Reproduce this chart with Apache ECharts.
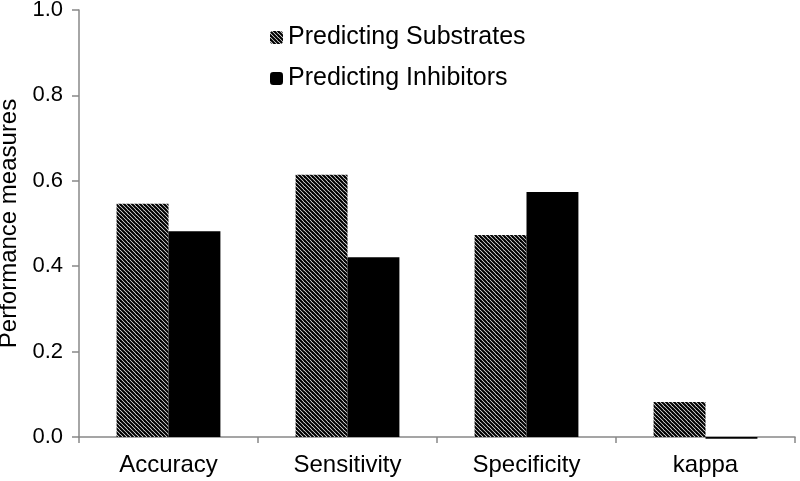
<!DOCTYPE html>
<html><head><meta charset="utf-8">
<script src="https://cdn.jsdelivr.net/npm/echarts@6/dist/echarts.min.js"></script>
<style>html,body{margin:0;padding:0;background:#fff}#c{width:800px;height:481px}</style>
</head><body><div id="c"></div>
<script>
const categories = ['Accuracy', 'Sensitivity', 'Specificity', 'kappa'];
const substrates = [0.546, 0.614, 0.473, 0.082];
const inhibitors = [0.482, 0.421, 0.574, -0.004];
const yTicks = [0.0, 0.2, 0.4, 0.6, 0.8, 1.0];

function hatch() {
  const s = 8;
  const cv = document.createElement('canvas');
  cv.width = s; cv.height = s;
  const ctx = cv.getContext('2d');
  ctx.fillStyle = '#fff'; ctx.fillRect(0, 0, s, s);
  ctx.strokeStyle = '#000'; ctx.lineWidth = 2.2;
  for (let k = -2; k <= 2; k++) {
    ctx.beginPath();
    ctx.moveTo(k * 4 - 4, -4);
    ctx.lineTo(k * 4 + s + 4, s + 4);
    ctx.stroke();
  }
  return cv;
}
const pattern = { image: hatch(), repeat: 'repeat' };
const font = 'Liberation Sans, Arial, sans-serif';
const chart = echarts.init(document.getElementById('c'));
chart.setOption({
  animation: false,
  textStyle: { fontFamily: font },
  grid: { left: 79, right: 5, top: 10, bottom: 44, containLabel: false, outerBoundsMode: 'none' },
  legend: {
    orient: 'vertical', left: 265, top: 20, itemWidth: 13, itemHeight: 13, itemGap: 16,
    textStyle: { fontSize: 25, color: '#000', fontFamily: font },
    data: ['Predicting Substrates', 'Predicting Inhibitors']
  },
  xAxis: {
    type: 'category', data: categories,
    axisLine: { lineStyle: { color: '#888', width: 1.5 } },
    axisTick: { show: true, length: 6, lineStyle: { color: '#888', width: 1.5 } },
    axisLabel: { fontSize: 24, color: '#000', margin: 16, fontFamily: font }
  },
  yAxis: {
    type: 'value', min: 0, max: 1, interval: 0.2,
    name: 'Performance measures', nameLocation: 'middle', nameGap: 54,
    nameTextStyle: { fontSize: 24, color: '#000', fontFamily: font },
    axisLine: { show: true, lineStyle: { color: '#888', width: 1.5 } },
    axisTick: { show: true, length: 7, lineStyle: { color: '#888', width: 1.5 } },
    splitLine: { show: false },
    axisLabel: { fontSize: 22, color: '#000', margin: 16, fontFamily: font,
      formatter: v => v.toFixed(1) }
  },
  series: [
    { name: 'Predicting Substrates', type: 'bar', data: substrates, barGap: '0%', barCategoryGap: '42%',
      itemStyle: { color: pattern } },
    { name: 'Predicting Inhibitors', type: 'bar', data: inhibitors, clip: false, z: 5,
      itemStyle: { color: '#000' } }
  ]
});
</script></body></html>
